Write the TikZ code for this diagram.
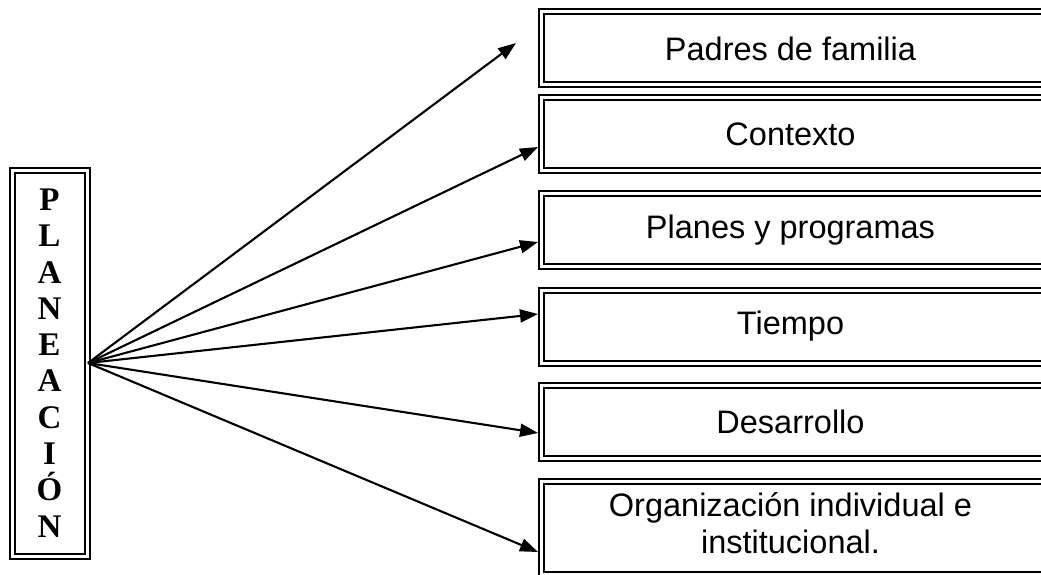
\documentclass[tikz,border=0pt]{standalone}
\usepackage{fontspec}
\setmainfont{Liberation Sans}
\newfontfamily\letrafont{Liberation Serif}
\usetikzlibrary{arrows.meta}
\begin{document}
\begin{tikzpicture}[x=1pt,y=-1pt,
    marco/.style={draw,line width=2pt,double=white,double distance=3pt,inner sep=0pt,align=center},
    caja/.style={marco,minimum width=530pt,minimum height=73pt},
    texto/.style={font=\fontsize{32.5}{37}\selectfont,align=center,inner sep=0pt},
    flecha/.style={line width=2.1pt,-{Triangle[length=18pt,width=13pt]}}]
  \useasboundingbox (0,0) rectangle (1041,575);
  \clip (0,0) rectangle (1041,575);
  \node[marco,minimum width=75pt,minimum height=386pt,
    font=\letrafont\bfseries\fontsize{33}{36.3}\selectfont] (plan) at (49.5,363)
    {P\\L\\A\\N\\E\\A\\C\\I\\Ó\\N};
  \node[caja] (padres) at (806.5,48.5) {};
  \node[caja] (contexto) at (806.5,134) {};
  \node[caja] (planes) at (806.5,230) {};
  \node[caja] (tiempo) at (806.5,326.5) {};
  \node[caja] (desarrollo) at (806.5,421.5) {};
  \node[caja,minimum height=93pt,anchor=north] (organizacion) at (806.5,480.5) {};
  \node[texto] (t1) at ([xshift=-16pt]padres.center) {Padres de familia};
  \node[texto] (t2) at ([xshift=-16pt]contexto.center) {Contexto};
  \node[texto] (t3) at ([xshift=-16pt]planes.center) {Planes y programas};
  \node[texto] (t4) at ([xshift=-16pt]tiempo.center) {Tiempo};
  \node[texto] (t5) at ([xshift=-16pt]desarrollo.center) {Desarrollo};
  \node[texto] (t6) at ([xshift=-16pt,yshift=5pt]organizacion.center)
    {Organización individual e\\institucional.};
  \coordinate (punta) at ([xshift=-24.5pt,yshift=5.5pt]padres.west);
  \draw[flecha] (plan.east) -- (punta);
  \draw[flecha] (plan.east) -- ([xshift=-2.5pt,yshift=-13pt]contexto.west);
  \draw[flecha] (plan.east) -- ([xshift=-2.5pt,yshift=-12pt]planes.west);
  \draw[flecha] (plan.east) -- ([xshift=-2.5pt,yshift=12.5pt]tiempo.west);
  \draw[flecha] (plan.east) -- ([xshift=-2.5pt,yshift=-11.5pt]desarrollo.west);
  \draw[flecha] (plan.east) -- ([xshift=-2.5pt,yshift=-24pt]organizacion.west);
\end{tikzpicture}
\end{document}
